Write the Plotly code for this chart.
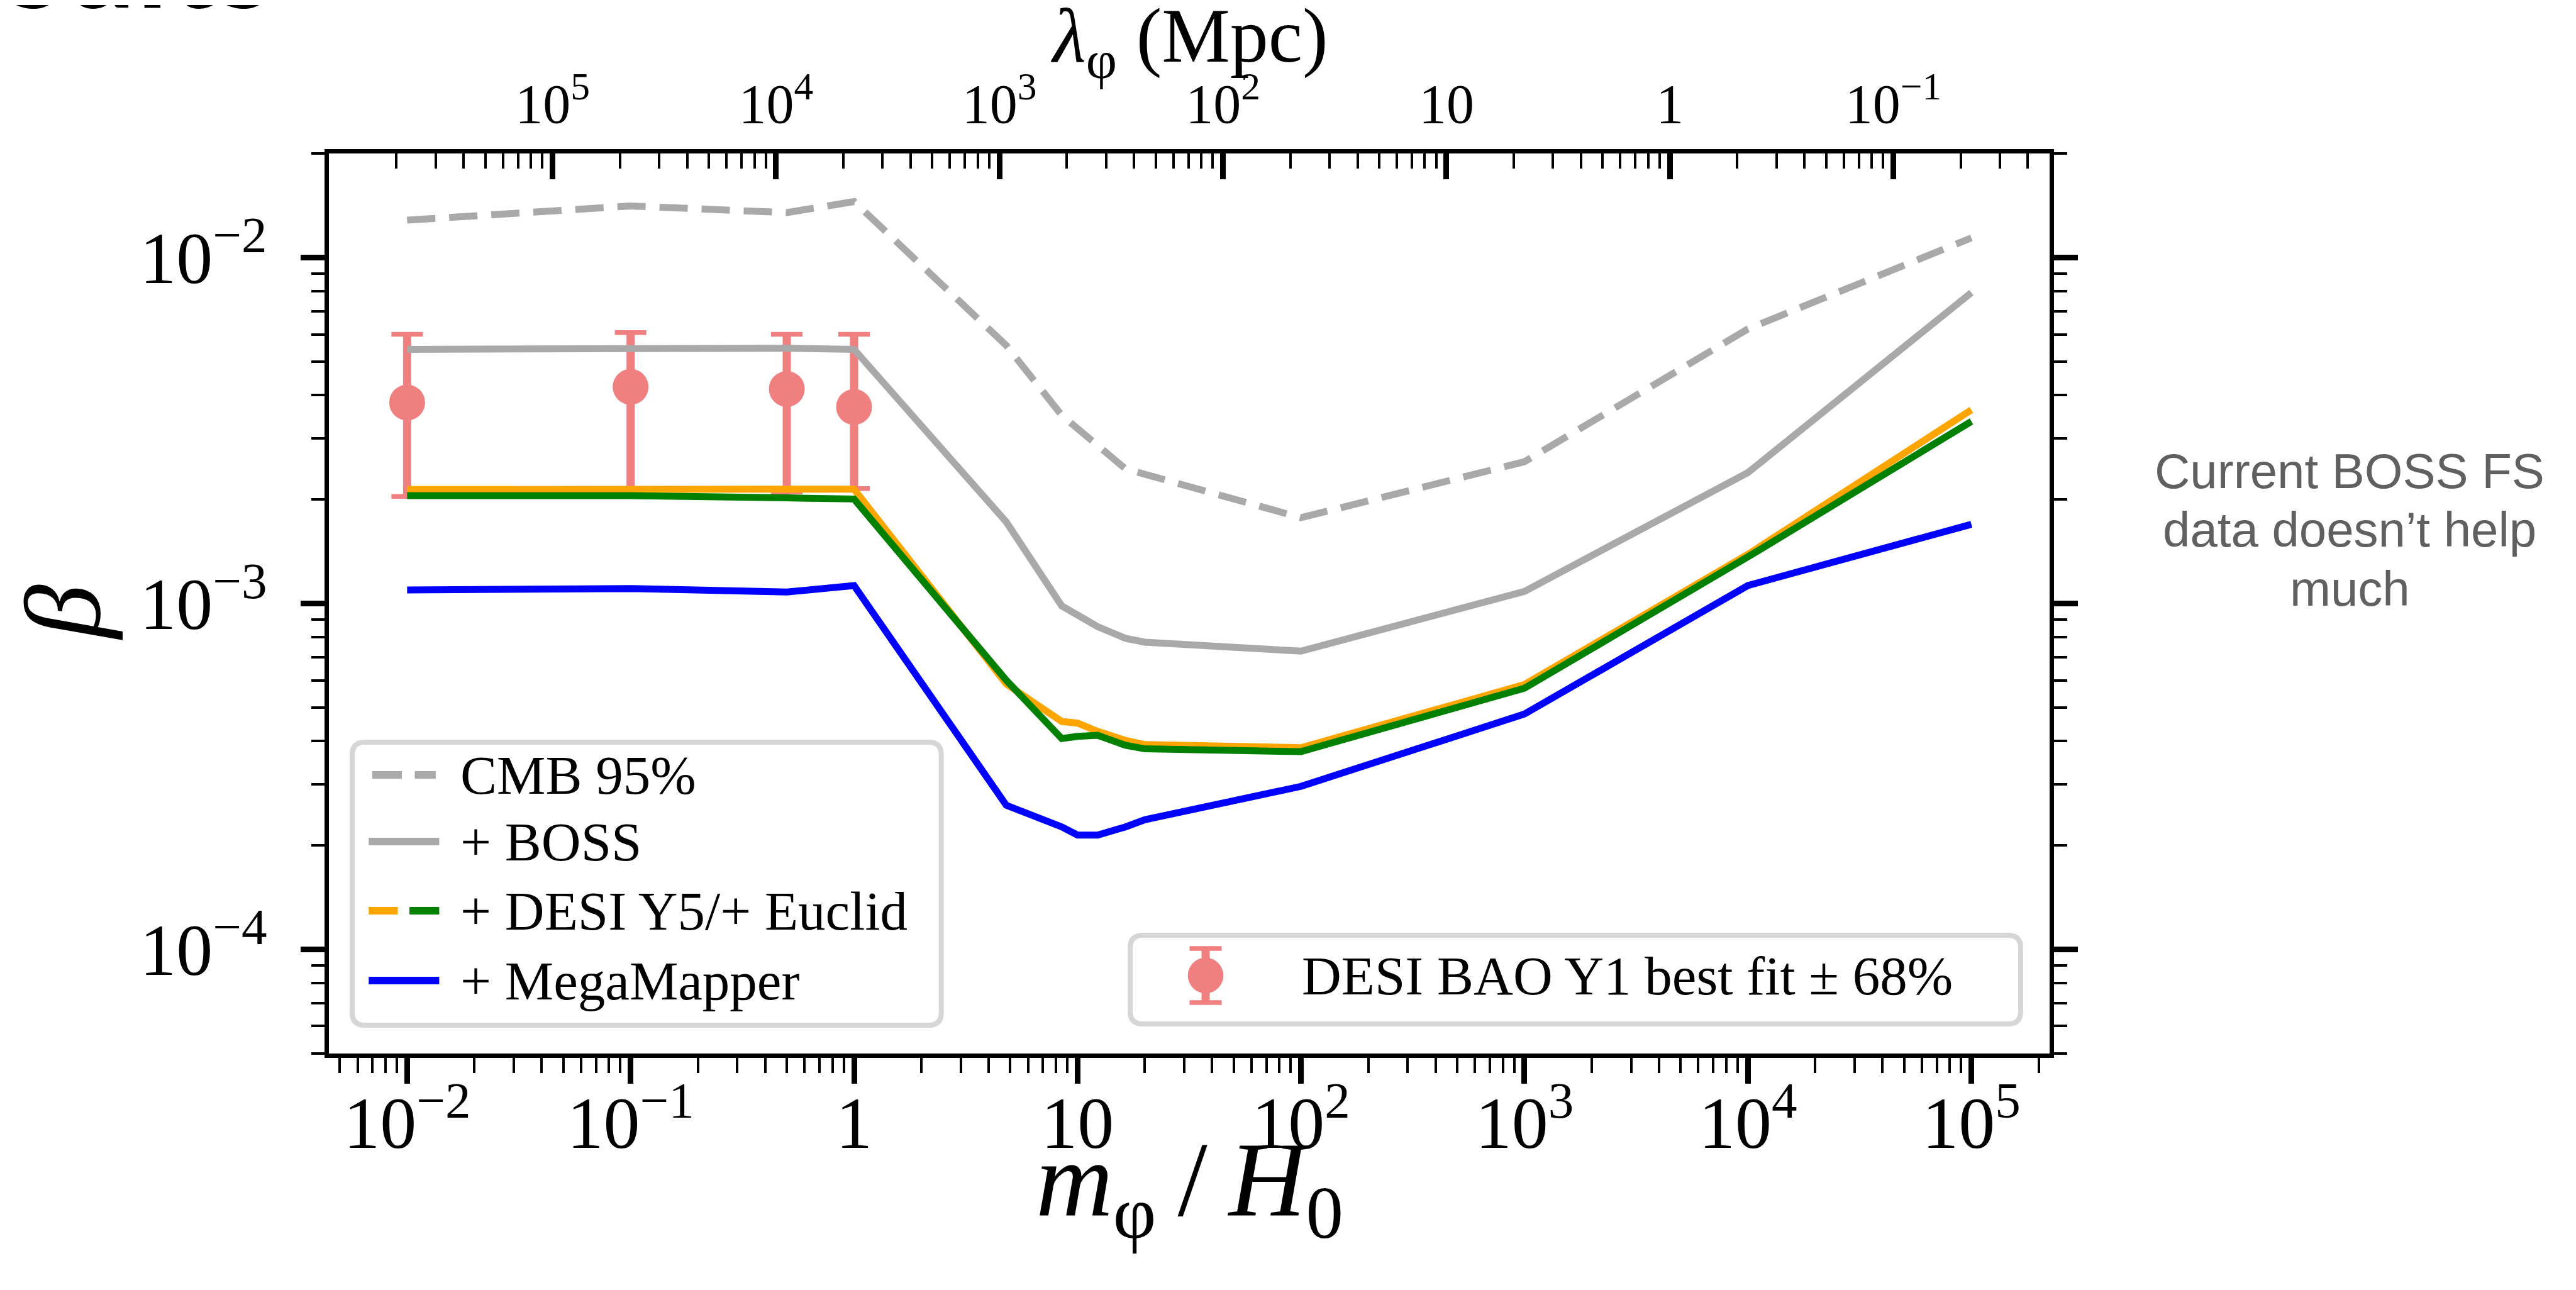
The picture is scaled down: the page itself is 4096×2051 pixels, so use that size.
import math
import plotly.graph_objects as go

# ---------------- data ----------------
mass_cmb = [0.01, 0.1, 0.5, 1, 4.8, 8.5, 16.4, 100, 1000, 1e4, 1e5]
beta_cmb = [0.01283, 0.0141, 0.01349, 0.01452, 0.00557, 0.00350, 0.00245, 0.00177, 0.00257, 0.00622, 0.0114]

mass_boss = [0.01, 0.1, 0.5, 1, 4.8, 8.5, 12.3, 16.4, 20, 100, 1000, 1e4, 1e5]
beta_boss = [0.00543, 0.00549, 0.00547, 0.00543, 0.00172, 0.000984, 0.000857, 0.000793, 0.000773,
             0.000728, 0.001084, 0.00239, 0.00792]

mass_lss = [0.01, 0.1, 0.5, 1, 4.8, 8.5, 10, 12.3, 16.4, 20, 100, 1000, 1e4, 1e5]
beta_desi = [0.002136, 0.002136, 0.00213, 0.00214, 0.000585, 0.000456, 0.000451, 0.000427, 0.000402,
             0.000391, 0.000383, 0.000583, 0.001387, 0.00363]
beta_euclid = [0.00205, 0.00205, 0.00202, 0.002005, 0.000600, 0.000407, 0.000413, 0.000416, 0.000389,
               0.000380, 0.000373, 0.000569, 0.001364, 0.00336]
beta_megamapper = [0.001094, 0.001105, 0.001079, 0.001127, 0.000261, 0.000226, 0.000214, 0.000214,
                   0.000226, 0.000237, 0.000296, 0.000479, 0.001127, 0.001694]

mass_bao = [0.01, 0.1, 0.5, 1]
beta_bao = [0.00381, 0.00423, 0.00417, 0.00370]
beta_bao_hi = [0.0060, 0.00607, 0.0060, 0.0060]
beta_bao_lo = [0.00204, 0.0021, 0.0021, 0.00215]

LAMBDA_SCALE_MPC = 4475.0   # lambda_phi [Mpc] = scale / (m_phi/H0)

x_tickvals = [1e-2, 1e-1, 1, 10, 1e2, 1e3, 1e4, 1e5]
x_ticktext = ["10<sup>\u22122</sup>", "10<sup>\u22121</sup>", "1", "10", "10<sup>2</sup>",
              "10<sup>3</sup>", "10<sup>4</sup>", "10<sup>5</sup>"]
y_tickvals = [1e-4, 1e-3, 1e-2]
y_ticktext = ["10<sup>\u22124</sup>", "10<sup>\u22123</sup>", "10<sup>\u22122</sup>"]
top_tickvals = [1e5, 1e4, 1e3, 1e2, 10, 1, 0.1]
top_ticktext = ["10<sup>5</sup>", "10<sup>4</sup>", "10<sup>3</sup>", "10<sup>2</sup>", "10", "1",
                "10<sup>\u22121</sup>"]
Y_LIMITS = [5e-5, 2e-2]

legend_labels = ["CMB 95%", "+ BOSS", "+ DESI Y5/+ Euclid", "+ MegaMapper"]
bao_label = "DESI BAO Y1 best fit \u00b1 68%"
note_lines = ["Current BOSS FS", "data doesn\u2019t help", "much"]

# ---------------- styling / geometry ----------------
W, H = 4096, 2051
L, T, PW, PH = 515, 236, 2736, 1431
SERIF = "Liberation Serif"
C_GRAY = "#a9a9a9"
C_ORANGE = "#ffa500"
C_GREEN = "#008000"
C_BLUE = "#0000ff"
C_PINK = "#f08080"
LW = 11


def px(X):
    return (X - L) / PW


def py(Y):
    return (T + PH - Y) / PH


# axis ranges (log units)
xr = [math.log10(min(mass_lss)) - 0.35, math.log10(max(mass_lss)) + 0.35]
yr = [math.log10(Y_LIMITS[0]), math.log10(Y_LIMITS[1])]
lc = math.log10(LAMBDA_SCALE_MPC)
top_r = [lc - xr[0], lc - xr[1]]

# minor tick positions
x_minor = [k * 10 ** n for n in range(-3, 6) for k in range(2, 10)
           if xr[0] <= math.log10(k * 10 ** n) <= xr[1]]
y_minor = [k * 10 ** n for n in range(-5, -1) for k in range(2, 10)
           if yr[0] - 1e-6 <= math.log10(k * 10 ** n) <= yr[1] + 1e-6]
top_minor = [10 ** (n + 1) / k for n in range(-3, 7) for k in range(2, 10)
             if top_r[1] <= math.log10(10 ** (n + 1) / k) <= top_r[0]]

fig = go.Figure()

# error bars: caps (thin), then stems (thick) with markers
err_up = [h - b for h, b in zip(beta_bao_hi, beta_bao)]
err_dn = [b - l for b, l in zip(beta_bao, beta_bao_lo)]
fig.add_trace(go.Scatter(
    x=mass_bao, y=beta_bao, mode="markers",
    marker=dict(size=1, color="rgba(0,0,0,0)"),
    error_y=dict(type="data", array=err_up, arrayminus=err_dn, color=C_PINK,
                 thickness=7.4, width=25),
    showlegend=False, hoverinfo="skip"))
fig.add_trace(go.Scatter(
    x=mass_bao, y=beta_bao, mode="markers",
    marker=dict(size=57, color=C_PINK),
    error_y=dict(type="data", array=err_up, arrayminus=err_dn, color=C_PINK,
                 thickness=13, width=0),
    showlegend=False, name=bao_label))

fig.add_trace(go.Scatter(x=mass_cmb, y=beta_cmb, mode="lines", name=legend_labels[0],
                         line=dict(color=C_GRAY, width=LW, dash="45px,22px"), showlegend=False))
fig.add_trace(go.Scatter(x=mass_boss, y=beta_boss, mode="lines", name=legend_labels[1],
                         line=dict(color=C_GRAY, width=LW), showlegend=False))
fig.add_trace(go.Scatter(x=mass_lss, y=beta_desi, mode="lines", name="+ DESI Y5",
                         line=dict(color=C_ORANGE, width=LW), showlegend=False))
fig.add_trace(go.Scatter(x=mass_lss, y=beta_euclid, mode="lines", name="+ Euclid",
                         line=dict(color=C_GREEN, width=LW), showlegend=False))
fig.add_trace(go.Scatter(x=mass_lss, y=beta_megamapper, mode="lines", name=legend_labels[3],
                         line=dict(color=C_BLUE, width=LW), showlegend=False))
# invisible trace to activate the top (lambda) axis
fig.add_trace(go.Scatter(x=[LAMBDA_SCALE_MPC / m for m in mass_boss], y=beta_boss,
                         xaxis="x2", mode="lines", line=dict(width=0, color="rgba(0,0,0,0)"),
                         showlegend=False, hoverinfo="skip"))

tick_font = dict(family=SERIF, size=116, color="black")
fig.update_layout(
    width=W, height=H, margin=dict(l=L, r=W - L - PW, t=T, b=H - T - PH),
    paper_bgcolor="white", plot_bgcolor="white", showlegend=False,
    xaxis=dict(type="log", range=xr, showgrid=False, zeroline=False,
               showline=True, linewidth=7.4, linecolor="black", mirror=True,
               ticks="outside", ticklen=41, tickwidth=8.5, tickcolor="black",
               tickmode="array", tickvals=x_tickvals, ticktext=x_ticktext,
               tickfont=tick_font, ticklabelstandoff=-37,
               minor=dict(tickmode="array", tickvals=x_minor, ticks="outside",
                          ticklen=24, tickwidth=4.4, tickcolor="black", showgrid=False)),
    xaxis2=dict(type="log", range=top_r, overlaying="x", side="top", anchor="y",
                showgrid=False, zeroline=False, showline=False,
                ticks="inside", ticklen=41, tickwidth=8.5, tickcolor="black",
                tickmode="array", tickvals=top_tickvals, ticktext=top_ticktext,
                tickfont=dict(family=SERIF, size=88, color="black"), ticklabelstandoff=30,
                minor=dict(tickmode="array", tickvals=top_minor, ticks="inside",
                           ticklen=24, tickwidth=4.4, tickcolor="black", showgrid=False)),
    yaxis=dict(type="log", range=yr, showgrid=False, zeroline=False,
               showline=True, linewidth=7.4, linecolor="black", mirror="ticks",
               ticks="outside", ticklen=38, tickwidth=8.5, tickcolor="black",
               tickmode="array", tickvals=y_tickvals, ticktext=y_ticktext,
               tickfont=tick_font, ticklabelstandoff=30,
               minor=dict(tickmode="array", tickvals=y_minor, ticks="outside",
                          ticklen=21, tickwidth=4.4, tickcolor="black", showgrid=False)),
)

shapes = []


def rounded_box(x0, y0, x1, y1, r=20, width=8):
    X0, X1 = px(x0), px(x1)
    Y0, Y1 = py(y1), py(y0)
    rx, ry = r / PW, r / PH
    path = (f"M {X0+rx},{Y0} L {X1-rx},{Y0} Q {X1},{Y0} {X1},{Y0+ry} "
            f"L {X1},{Y1-ry} Q {X1},{Y1} {X1-rx},{Y1} L {X0+rx},{Y1} "
            f"Q {X0},{Y1} {X0},{Y1-ry} L {X0},{Y0+ry} Q {X0},{Y0} {X0+rx},{Y0} Z")
    return dict(type="path", path=path, xref="paper", yref="paper", layer="above",
                fillcolor="rgba(255,255,255,0.85)", line=dict(color="#d6d6d6", width=width))


def hline(x0, x1, y, color, width):
    return dict(type="line", xref="paper", yref="paper", layer="above",
                x0=px(x0), x1=px(x1), y0=py(y), y1=py(y), line=dict(color=color, width=width))


def vline(x, y0, y1, color, width):
    return dict(type="line", xref="paper", yref="paper", layer="above",
                x0=px(x), x1=px(x), y0=py(y0), y1=py(y1), line=dict(color=color, width=width))


# legend 1
shapes.append(rounded_box(552, 1172, 1488.7, 1622))
ent_y = [1224, 1330, 1440, 1551]
hx0, hx1 = 578.3, 690.4
shapes.append(hline(583.8, 631.1, ent_y[0], C_GRAY, 12))
shapes.append(hline(651.5, 684.8, ent_y[0], C_GRAY, 12))
shapes.append(hline(hx0, hx1, ent_y[1], C_GRAY, 12))
shapes.append(hline(578.3, 624.6, ent_y[2], C_ORANGE, 12))
shapes.append(hline(643.1, 690.4, ent_y[2], C_GREEN, 12))
shapes.append(hline(hx0, hx1, ent_y[3], C_BLUE, 12))

# legend 2
shapes.append(rounded_box(1789, 1479, 3205, 1620))
mx, my = 1909.0, 1543.0
shapes.append(vline(mx, 1500, 1586, C_PINK, 13))
shapes.append(hline(mx - 25.5, mx + 25.5, 1500, C_PINK, 7.4))
shapes.append(hline(mx - 25.5, mx + 25.5, 1586, C_PINK, 7.4))
rad = 28.3
shapes.append(dict(type="circle", xref="paper", yref="paper", layer="above",
                   x0=px(mx - rad), x1=px(mx + rad), y0=py(my + rad), y1=py(my - rad),
                   fillcolor=C_PINK, line=dict(width=0)))
fig.update_layout(shapes=shapes)

ann = []
leg_font = dict(family=SERIF, size=87, color="black")
for lab, yy in zip(legend_labels, ent_y):
    ann.append(dict(text=lab, x=px(722), y=py(yy), xref="paper", yref="paper",
                    xanchor="left", yanchor="middle", showarrow=False, font=leg_font))
ann.append(dict(text=bao_label, x=px(2060), y=py(my), xref="paper", yref="paper",
                xanchor="left", yanchor="middle", showarrow=False, font=leg_font))

# axis titles
ann.append(dict(text="<i>m</i><sub>\u03c6</sub>\u2009/\u2009<i>H</i><sub>0</sub>", x=px(1883), y=py(1879),
                xref="paper", yref="paper", xanchor="center", yanchor="middle", showarrow=False,
                font=dict(family=SERIF, size=170, color="black")))
ann.append(dict(text="<i>\u03bb</i><sub>\u03c6</sub> (Mpc)", x=px(1883), y=py(58),
                xref="paper", yref="paper", xanchor="center", yanchor="middle", showarrow=False,
                font=dict(family=SERIF, size=122, color="black")))
ann.append(dict(text="<i>\u03b2</i>", x=px(92), y=py(966), textangle=-90,
                xref="paper", yref="paper", xanchor="center", yanchor="middle", showarrow=False,
                font=dict(family=SERIF, size=172, color="black")))

# side note
for line, yy in zip(note_lines, [741, 834, 928]):
    ann.append(dict(text=line, x=px(3728), y=py(yy), xref="paper", yref="paper",
                    xanchor="center", yanchor="middle", showarrow=False,
                    font=dict(family="Liberation Sans", size=78, color="#606060")))

# cut-off slide title
ann.append(dict(text="sults", x=px(0), y=py(50), xref="paper", yref="paper",
                xanchor="left", yanchor="bottom", showarrow=False,
                font=dict(family="Lato", size=206, color="black", weight="bold")))

fig.update_layout(annotations=ann)
fig.write_html("out.html")
